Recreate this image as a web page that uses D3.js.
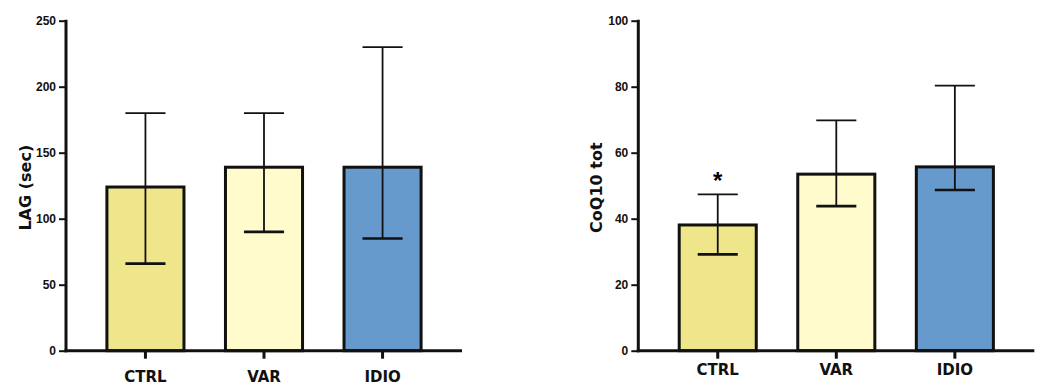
<!DOCTYPE html>
<html>
<head>
<meta charset="utf-8">
<script src="https://cdn.jsdelivr.net/npm/d3@7"></script>
<style>
  body { margin: 0; background: #fff; }
  svg { display: block; }
</style>
</head>
<body>
<div id="chart"></div>
<script>
// group names and colours, shared by both panels
let groups = ["CTRL", "VAR", "IDIO"];
let groupColors = ["#efe68c", "#fffbcc", "#6699cc"];

// left panel: LAG (sec)
let lagMean = [124, 139, 139];
let lagLow = [66, 90, 85];
let lagHigh = [180, 180, 230];
let lagTicks = [0, 50, 100, 150, 200, 250];

// right panel: CoQ10 tot
let coqMean = [38.1, 53.5, 55.7];
let coqLow = [29.2, 43.8, 48.7];
let coqHigh = [47.4, 69.8, 80.3];
let coqTicks = [0, 20, 40, 60, 80, 100];
let coqMarks = ["*", "", ""];

let width = 1040, height = 387;

let svg = d3.select("#chart")
    .append("svg")
    .attr("width", width)
    .attr("height", height);

drawPanel({
    x0: 66, x1: 462, top: 20.7, bottom: 350.7,
    mean: lagMean, low: lagLow, high: lagHigh, ticks: lagTicks,
    title: "LAG (sec)", titleX: 25, labelPad: 13, marks: null
});

drawPanel({
    x0: 638.3, x1: 1034.3, top: 20.7, bottom: 350.7,
    mean: coqMean, low: coqLow, high: coqHigh, ticks: coqTicks,
    title: "CoQ10 tot", titleX: 596, labelPad: 6, marks: coqMarks
});

function drawPanel(p) {
    let g = svg.append("g");

    let x = d3.scaleBand()
        .domain(groups)
        .range([p.x0, p.x1])
        .paddingInner(0.35)
        .paddingOuter(0.345);

    let y = d3.scaleLinear()
        .domain([0, d3.max(p.ticks)])
        .range([p.bottom, p.top]);

    let rows = groups.map(function (name, i) {
        return { name: name, mean: p.mean[i], low: p.low[i], high: p.high[i], color: groupColors[i] };
    });

    // bars
    g.selectAll("rect.bar")
        .data(rows)
        .enter()
        .append("rect")
        .attr("class", "bar")
        .attr("x", function (d) { return x(d.name); })
        .attr("width", x.bandwidth())
        .attr("y", function (d) { return y(d.mean); })
        .attr("height", function (d) { return y(0) - y(d.mean); })
        .attr("fill", function (d) { return d.color; })
        .attr("stroke", "#111")
        .attr("stroke-width", 3);

    // error bars
    let capHalf = x.bandwidth() * 0.26;
    let err = g.selectAll("g.err")
        .data(rows)
        .enter()
        .append("g")
        .attr("class", "err")
        .attr("stroke", "#111")
        .attr("stroke-width", 1.8);

    err.append("line")
        .attr("x1", function (d) { return x(d.name) + x.bandwidth() / 2; })
        .attr("x2", function (d) { return x(d.name) + x.bandwidth() / 2; })
        .attr("y1", function (d) { return y(d.low); })
        .attr("y2", function (d) { return y(d.high); });
    err.append("line")
        .attr("x1", function (d) { return x(d.name) + x.bandwidth() / 2 - capHalf; })
        .attr("x2", function (d) { return x(d.name) + x.bandwidth() / 2 + capHalf; })
        .attr("y1", function (d) { return y(d.high); })
        .attr("y2", function (d) { return y(d.high); });
    err.append("line")
        .attr("x1", function (d) { return x(d.name) + x.bandwidth() / 2 - capHalf; })
        .attr("x2", function (d) { return x(d.name) + x.bandwidth() / 2 + capHalf; })
        .attr("y1", function (d) { return y(d.low); })
        .attr("y2", function (d) { return y(d.low); })
        .attr("stroke-width", 2.6);

    // significance marks
    if (p.marks) {
        g.selectAll("text.mark")
            .data(rows)
            .enter()
            .append("text")
            .attr("class", "mark")
            .attr("x", function (d) { return x(d.name) + x.bandwidth() / 2; })
            .attr("y", function (d) { return y(d.high) - 5; })
            .attr("text-anchor", "middle")
            .attr("font-family", "Liberation Sans, Arial, sans-serif")
            .attr("font-weight", "bold")
            .attr("font-size", 24)
            .text(function (d, i) { return p.marks[i]; });
    }

    // y axis
    let yAxis = g.append("g")
        .attr("transform", "translate(" + p.x0 + ",0)")
        .call(d3.axisLeft(y).tickValues(p.ticks).tickSize(7).tickSizeOuter(0).tickPadding(3));
    yAxis.select(".domain").attr("stroke", "#111").attr("stroke-width", 3).attr("d", "M0," + (p.top - 1) + "V" + (p.bottom + 1.5));
    yAxis.selectAll(".tick line").attr("stroke", "#111").attr("stroke-width", 2);
    yAxis.selectAll(".tick text")
        .attr("fill", "#111")
        .attr("font-family", "Liberation Sans, Arial, sans-serif")
        .attr("font-weight", "bold")
        .attr("font-size", 12);

    // x axis
    let xAxis = g.append("g")
        .attr("transform", "translate(0," + p.bottom + ")")
        .call(d3.axisBottom(x).tickSize(8).tickSizeOuter(0).tickPadding(p.labelPad));
    xAxis.select(".domain").attr("stroke", "#111").attr("stroke-width", 3).attr("d", "M" + (p.x0 - 1.5) + ",0H" + p.x1);
    xAxis.selectAll(".tick line").attr("stroke", "#111").attr("stroke-width", 3);
    xAxis.selectAll(".tick text")
        .attr("fill", "#111")
        .attr("font-family", "DejaVu Sans, sans-serif")
        .attr("font-weight", "bold")
        .attr("font-size", 15);

    // axis title
    g.append("text")
        .attr("transform", "translate(" + p.titleX + "," + ((p.top + p.bottom) / 2 + 2) + ") rotate(-90)")
        .attr("text-anchor", "middle")
        .attr("dy", "0.36em")
        .attr("fill", "#111")
        .attr("font-family", "DejaVu Sans, sans-serif")
        .attr("font-weight", "bold")
        .attr("font-size", 16)
        .text(p.title);
}
</script>
</body>
</html>
